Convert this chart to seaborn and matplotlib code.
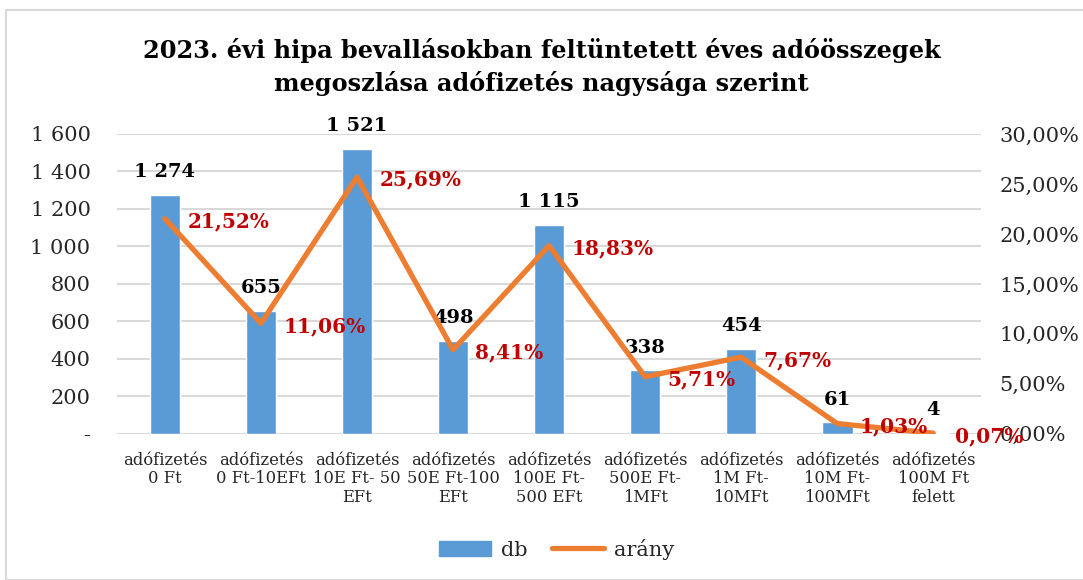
import matplotlib
matplotlib.use("Agg")
import matplotlib.pyplot as plt
import seaborn as sns
import pandas as pd
import numpy as np
from matplotlib.ticker import FixedLocator, FuncFormatter
from matplotlib.lines import Line2D
from matplotlib.patches import Patch, Rectangle

categories = [
    "adófizetés\n0 Ft",
    "adófizetés\n0 Ft-10EFt",
    "adófizetés\n10E Ft- 50\nEFt",
    "adófizetés\n50E Ft-100\nEFt",
    "adófizetés\n100E Ft-\n500 EFt",
    "adófizetés\n500E Ft-\n1MFt",
    "adófizetés\n1M Ft-\n10MFt",
    "adófizetés\n10M Ft-\n100MFt",
    "adófizetés\n100M Ft\nfelett",
]
db = [1274, 655, 1521, 498, 1115, 338, 454, 61, 4]
arany = [21.52, 11.06, 25.69, 8.41, 18.83, 5.71, 7.67, 1.03, 0.07]
title = "2023. évi hipa bevallásokban feltüntetett éves adóösszegek\nmegoszlása adófizetés nagysága szerint"

sns.set_theme(style="white")
plt.rcParams['font.family'] = ['DejaVu Serif', 'Liberation Serif']

BLUE = "#5B9BD5"
ORANGE = "#ED7D31"
RED = "#C00000"

df = pd.DataFrame({"cat": categories, "db": db, "arany": arany})
df["pos"] = np.arange(len(df))

fig = plt.figure(figsize=(10.83, 5.8), dpi=100)
ax = fig.add_axes([0.108, 0.252, 0.798, 0.517])

sns.barplot(data=df, x="cat", y="db", color=BLUE, saturation=1, width=0.32, ax=ax, zorder=2)
ax.set_ylim(0, 1600)
ax.set_xlim(-0.5, len(df) - 0.5)
ax.yaxis.set_major_locator(FixedLocator(np.arange(0, 1601, 200)))
ax.yaxis.set_major_formatter(FuncFormatter(lambda v, p: "-" if v == 0 else f"{int(v):,}".replace(",", " ")))
ax.grid(axis="y", color="#D9D9D9", linewidth=1.5, zorder=0)
ax.set_axisbelow(True)
for s in ax.spines.values():
    s.set_visible(False)
ax.set_xlabel("")
ax.set_ylabel("")
ax.tick_params(axis="y", labelsize=15, length=0, pad=19, colors="#262626")
ax.tick_params(axis="x", labelsize=11.8, length=0, pad=13, colors="#262626")
for lbl in ax.get_xticklabels():
    lbl.set_linespacing(1.12)

for i, v in enumerate(df["db"]):
    ax.annotate(f"{v:,}".replace(",", " "), (i, v), xytext=(0, 10), textcoords="offset points",
                ha="center", va="bottom", fontsize=14, fontweight="bold", color="black", zorder=5)

ax2 = ax.twinx()
sns.lineplot(data=df, x="pos", y="arany", color=ORANGE, linewidth=3.8, ax=ax2, zorder=3)
ax2.set_ylim(0, 30)
ax2.yaxis.set_major_locator(FixedLocator(np.arange(0, 31, 5)))
ax2.yaxis.set_major_formatter(FuncFormatter(lambda v, p: f"{v:.2f}%".replace(".", ",")))
for s in ax2.spines.values():
    s.set_visible(False)
ax2.set_xlabel("")
ax2.set_ylabel("")
ax2.tick_params(axis="y", labelsize=15, length=0, pad=13, colors="#262626")

for i, v in enumerate(df["arany"]):
    ax2.annotate(f"{v:.2f}%".replace(".", ","), (i, v), xytext=(16, -2), textcoords="offset points",
                 ha="left", va="center", fontsize=14.5, fontweight="bold", color=RED, zorder=6)

fig.text(0.5, 0.884, title, ha="center", va="center", fontsize=17.3, fontweight="bold",
         linespacing=1.4, color="black")

handles = [Patch(facecolor=BLUE, edgecolor=BLUE), Line2D([0], [0], color=ORANGE, linewidth=3.8)]
fig.legend(handles, ["db", "arány"], loc="center", bbox_to_anchor=(0.514, 0.053), ncol=2,
           frameon=False, fontsize=15, handlelength=2.5, handletextpad=0.45, columnspacing=1.2)

fig.add_artist(Rectangle((0.006, 0.0), 1.2, 0.982, transform=fig.transFigure, fill=False,
                         edgecolor="#D9D9D9", linewidth=1.5))

fig.savefig("out.png", dpi=100)
